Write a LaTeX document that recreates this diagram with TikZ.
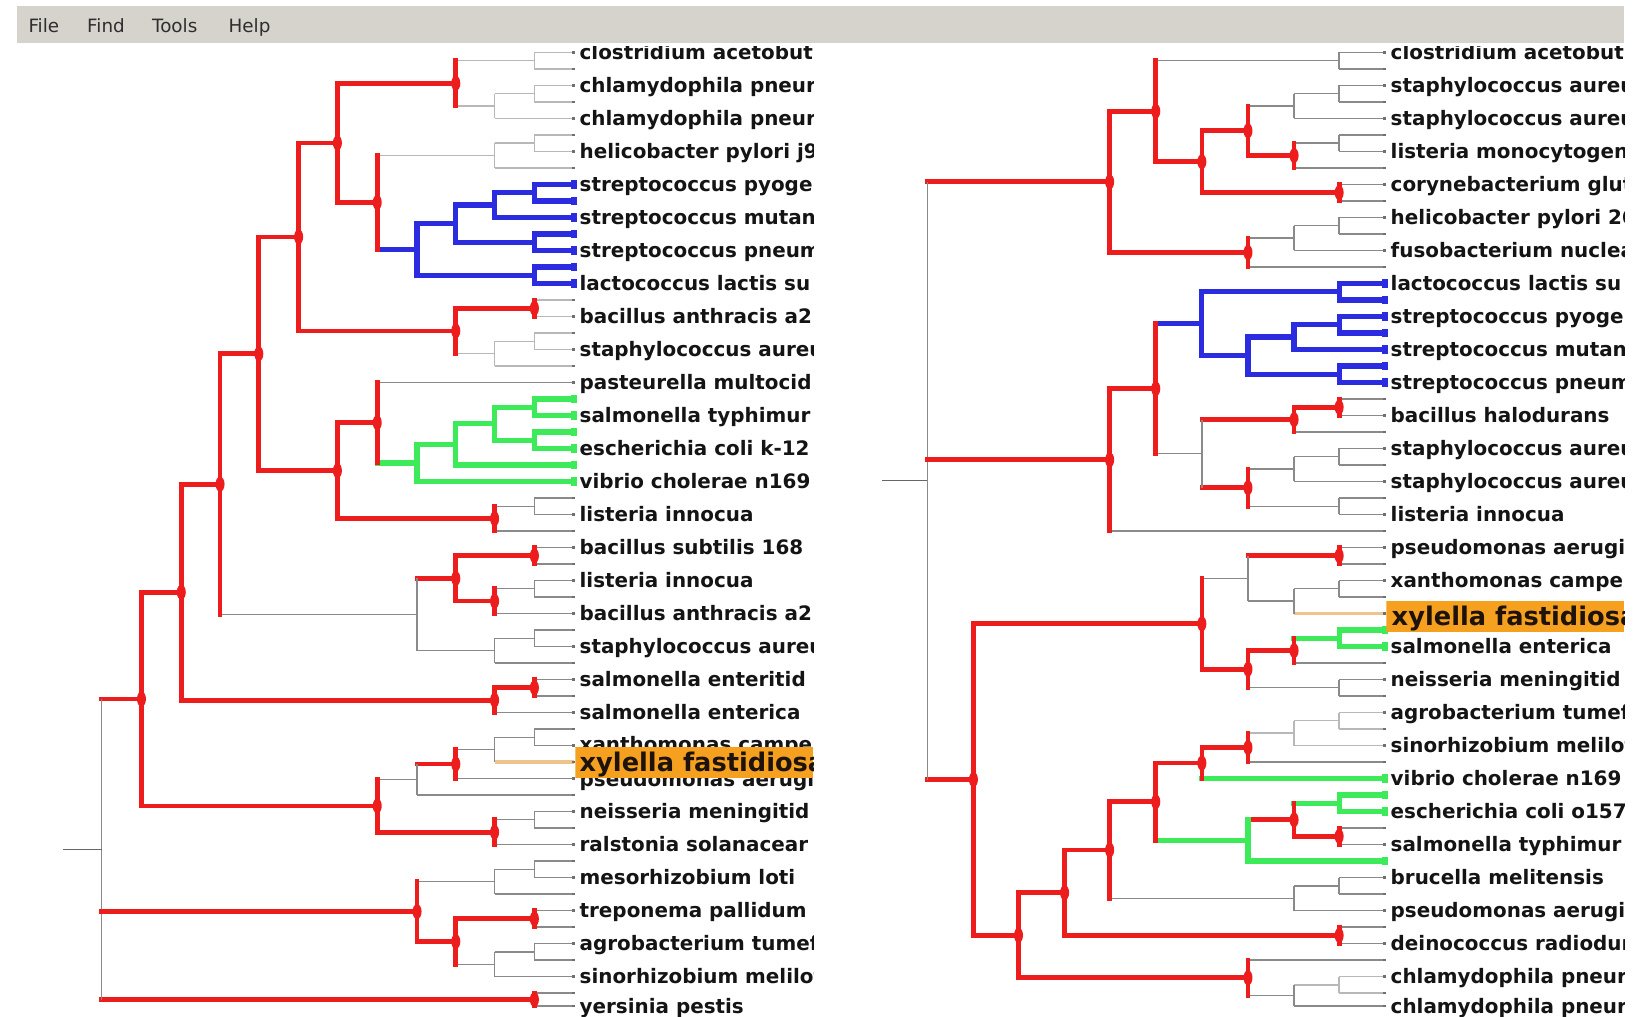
\documentclass[tikz,border=0pt]{standalone}
\usepackage{fontspec}
\usetikzlibrary{calc}
\newfontfamily\lblfont{DejaVu Sans}
\newfontfamily\menufont{DejaVu Sans}
\definecolor{tjred}{HTML}{EE1D1D}
\definecolor{tjblue}{HTML}{2B2BE0}
\definecolor{tjgreen}{HTML}{3DEB5A}
\definecolor{hilite}{HTML}{F5A11F}
\definecolor{menubg}{HTML}{D6D3CC}
\definecolor{lgray}{HTML}{B8B8B8}
\definecolor{mgray}{HTML}{8A8A8A}
\definecolor{xyedge}{HTML}{EDC48C}
\definecolor{tickc}{HTML}{707070}

% binary clade: name, column x, child 1, edge style 1, child 2, edge style 2, vertical style
\newcommand\clade[7]{%
  \coordinate (tmpmid) at ($(#3)!.5!(#5)$);
  \coordinate (colx) at (#2,0);
  \coordinate (#1) at (colx |- tmpmid);
  \draw[#4] (#1 |- #3) -- (#3);
  \draw[#6] (#1 |- #5) -- (#5);
  \draw[#7] (#1 |- #3) -- (#1 |- #5);
}
% leaf label: node name, leaf, text
\newcommand\leaflabel[3]{\node[lbl] (#1) at ($(#2)+(5,7)$) {#3};}

\begin{document}
\begin{tikzpicture}[x=1pt,y=-1pt,
  rd/.style={draw=tjred, line width=4.5pt, line cap=rect},
  bl/.style={draw=tjblue, line width=5pt, line cap=rect},
  gn/.style={draw=tjgreen, line width=5pt, line cap=rect},
  lg/.style={draw=lgray, line width=1.3pt},
  mg/.style={draw=mgray, line width=1.3pt},
  og/.style={draw=xyedge, line width=3pt},
  lbl/.style={font=\lblfont\bfseries\fontsize{19}{19}\selectfont, text=black!92, inner sep=0pt, anchor=base west},
  xyl/.style={font=\lblfont\bfseries\fontsize{24.5}{24.5}\selectfont, text=black!85!brown, inner sep=0pt, anchor=base west},
  menu/.style={font=\menufont\fontsize{17.5}{17.5}\selectfont, text=black!82, inner sep=0pt, anchor=base west}]
\useasboundingbox (0,0) rectangle (1568,970);
\fill[white] (0,0) rectangle (1568,970);

% menu bar
\fill[menubg] (16,6) rectangle (1550,41);
\node[menu] (mFile) at (27,31) {File};
\node[menu] (mFind) at (83,31) {Find};
\node[menu] (mTools) at (145,31) {Tools};
\node[menu] (mHelp) at (218,31) {Help};

% leaf positions of both trees
\foreach \s in {0,...,57}{
  \coordinate (a\s) at (548,{50+15.75*\s});
  \coordinate (b\s) at (1322,{50+15.75*\s});
}
\coordinate (a58) at (548,960);
\coordinate (b58) at (1322,960);

% ---------------- left tree ----------------
\clade{L1}{510}{a0}{lg}{a1}{lg}{lg}
\clade{L2}{510}{a2}{lg}{a3}{lg}{lg}
\clade{L3}{472}{L2}{lg}{a4}{lg}{lg}
\clade{L4}{435}{L1}{lg}{L3}{lg}{rd}
\clade{L5}{510}{a5}{lg}{a6}{lg}{lg}
\clade{L6}{472}{L5}{lg}{a7}{lg}{lg}
\clade{L7}{510}{a8}{bl}{a9}{bl}{bl}
\clade{L8}{472}{L7}{bl}{a10}{bl}{bl}
\clade{L9}{510}{a11}{bl}{a12}{bl}{bl}
\clade{L10}{435}{L8}{bl}{L9}{bl}{bl}
\clade{L11}{510}{a13}{bl}{a14}{bl}{bl}
\clade{L12}{398}{L10}{bl}{L11}{bl}{bl}
\clade{L13}{360}{L6}{lg}{L12}{bl}{rd}
\clade{L14}{322}{L4}{rd}{L13}{rd}{rd}
\clade{L15}{510}{a15}{lg}{a16}{lg}{rd}
\clade{L16}{510}{a17}{lg}{a18}{lg}{lg}
\clade{L17}{472}{L16}{lg}{a19}{lg}{lg}
\clade{L18}{435}{L15}{rd}{L17}{lg}{rd}
\clade{L19}{285}{L14}{rd}{L18}{rd}{rd}
\clade{L20}{510}{a21}{gn}{a22}{gn}{gn}
\clade{L21}{510}{a23}{gn}{a24}{gn}{gn}
\clade{L22}{472}{L20}{gn}{L21}{gn}{gn}
\clade{L23}{435}{L22}{gn}{a25}{gn}{gn}
\clade{L24}{398}{L23}{gn}{a26}{gn}{gn}
\clade{L25}{360}{a20}{mg}{L24}{gn}{rd}
\clade{L26}{510}{a27}{mg}{a28}{mg}{mg}
\clade{L27}{472}{L26}{mg}{a29}{mg}{rd}
\clade{L28}{322}{L25}{rd}{L27}{rd}{rd}
\clade{L29}{247}{L19}{rd}{L28}{rd}{rd}
\clade{L30}{510}{a30}{mg}{a31}{mg}{rd}
\clade{L31}{510}{a32}{mg}{a33}{mg}{mg}
\clade{L32}{472}{L31}{mg}{a34}{mg}{rd}
\clade{L33}{435}{L30}{rd}{L32}{rd}{rd}
\clade{L34}{510}{a35}{mg}{a36}{mg}{mg}
\clade{L35}{472}{L34}{mg}{a37}{mg}{mg}
\clade{L36}{398}{L33}{rd}{L35}{mg}{mg}
\clade{L37}{210}{L29}{rd}{L36}{mg}{rd}
\clade{L38}{510}{a38}{mg}{a39}{mg}{rd}
\clade{L39}{472}{L38}{rd}{a40}{mg}{rd}
\clade{L40}{173}{L37}{rd}{L39}{rd}{rd}
\clade{L41}{510}{a41}{mg}{a42}{mg}{mg}
\clade{L42}{472}{L41}{mg}{a43}{og}{mg}
\clade{L43}{435}{L42}{mg}{a44}{mg}{rd}
\clade{L44}{398}{L43}{rd}{a45}{mg}{mg}
\clade{L45}{510}{a46}{mg}{a47}{mg}{mg}
\clade{L46}{472}{L45}{mg}{a48}{mg}{rd}
\clade{L47}{360}{L44}{mg}{L46}{rd}{rd}
\clade{L48}{135}{L40}{rd}{L47}{rd}{rd}
\clade{L49}{510}{a49}{mg}{a50}{mg}{mg}
\clade{L50}{472}{L49}{mg}{a51}{mg}{mg}
\clade{L51}{510}{a52}{mg}{a53}{mg}{rd}
\clade{L52}{510}{a54}{mg}{a55}{mg}{mg}
\clade{L53}{472}{L52}{mg}{a56}{mg}{mg}
\clade{L54}{435}{L51}{rd}{L53}{mg}{rd}
\clade{L55}{398}{L50}{mg}{L54}{rd}{rd}
\clade{L56}{510}{a57}{mg}{a58}{mg}{rd}
\clade{L57}{97}{L48}{rd}{L56}{rd}{mg}
\draw[rd] (L57 |- L55) -- (L55);
\coordinate (colx) at (60,0);
\coordinate (Lstub) at (colx |- L57);
\draw[mg, draw=black!60] (Lstub) -- (L57);

% ---------------- right tree ----------------
\clade{R1}{1278}{b0}{mg}{b1}{mg}{mg}
\clade{R2}{1278}{b2}{mg}{b3}{mg}{mg}
\clade{R3}{1235}{R2}{mg}{b4}{mg}{mg}
\clade{R4}{1278}{b5}{mg}{b6}{mg}{mg}
\clade{R5}{1235}{R4}{mg}{b7}{mg}{rd}
\clade{R6}{1191}{R3}{mg}{R5}{rd}{rd}
\clade{R7}{1278}{b8}{mg}{b9}{mg}{rd}
\clade{R8}{1147}{R6}{rd}{R7}{rd}{rd}
\clade{R9}{1103}{R1}{mg}{R8}{rd}{rd}
\clade{R10}{1278}{b10}{mg}{b11}{mg}{mg}
\clade{R11}{1235}{R10}{mg}{b12}{mg}{mg}
\clade{R12}{1191}{R11}{mg}{b13}{mg}{rd}
\clade{R13}{1059}{R9}{rd}{R12}{rd}{rd}
\clade{R14}{1278}{b14}{bl}{b15}{bl}{bl}
\clade{R15}{1278}{b16}{bl}{b17}{bl}{bl}
\clade{R16}{1235}{R15}{bl}{b18}{bl}{bl}
\clade{R17}{1278}{b19}{bl}{b20}{bl}{bl}
\clade{R18}{1191}{R16}{bl}{R17}{bl}{bl}
\clade{R19}{1147}{R14}{bl}{R18}{bl}{bl}
\clade{R20}{1278}{b21}{mg}{b22}{mg}{rd}
\clade{R21}{1235}{R20}{rd}{b23}{mg}{rd}
\clade{R22}{1278}{b24}{mg}{b25}{mg}{mg}
\clade{R23}{1235}{R22}{mg}{b26}{mg}{mg}
\clade{R24}{1278}{b27}{mg}{b28}{mg}{mg}
\clade{R25}{1191}{R23}{mg}{R24}{mg}{rd}
\clade{R26}{1147}{R21}{rd}{R25}{rd}{mg}
\clade{R27}{1103}{R19}{bl}{R26}{mg}{rd}
\clade{R28}{1059}{R27}{rd}{b29}{mg}{rd}
\clade{R29}{1278}{b30}{mg}{b31}{mg}{rd}
\clade{R30}{1278}{b32}{mg}{b33}{mg}{mg}
\clade{R31}{1235}{R30}{mg}{b34}{og}{mg}
\clade{R32}{1191}{R29}{rd}{R31}{mg}{mg}
\clade{R33}{1278}{b35}{gn}{b36}{gn}{gn}
\clade{R34}{1235}{R33}{gn}{b37}{mg}{rd}
\clade{R35}{1278}{b38}{mg}{b39}{mg}{mg}
\clade{R36}{1191}{R34}{rd}{R35}{mg}{rd}
\clade{R37}{1147}{R32}{mg}{R36}{rd}{rd}
\clade{R38}{1278}{b40}{lg}{b41}{lg}{lg}
\clade{R39}{1235}{R38}{lg}{b42}{lg}{lg}
\clade{R40}{1191}{R39}{lg}{b43}{mg}{rd}
\clade{R41}{1147}{R40}{rd}{b44}{gn}{rd}
\clade{R42}{1278}{b45}{gn}{b46}{gn}{gn}
\clade{R43}{1278}{b47}{mg}{b48}{mg}{rd}
\clade{R44}{1235}{R42}{gn}{R43}{rd}{rd}
\clade{R45}{1191}{R44}{rd}{b49}{gn}{gn}
\clade{R46}{1103}{R41}{rd}{R45}{gn}{rd}
\clade{R47}{1278}{b50}{mg}{b51}{mg}{mg}
\clade{R48}{1235}{R47}{mg}{b52}{mg}{mg}
\clade{R49}{1059}{R46}{rd}{R48}{mg}{rd}
\clade{R50}{1278}{b53}{mg}{b54}{mg}{rd}
\clade{R51}{1016}{R49}{rd}{R50}{rd}{rd}
\clade{R52}{1278}{b56}{lg}{b57}{lg}{lg}
\clade{R53}{1235}{R52}{lg}{b58}{mg}{mg}
\clade{R54}{1191}{b55}{mg}{R53}{mg}{rd}
\clade{R55}{972}{R51}{rd}{R54}{rd}{rd}
\clade{R56}{929}{R37}{rd}{R55}{rd}{rd}
\clade{R57}{885}{R13}{rd}{R56}{rd}{mg}
\draw[rd] (R57 |- R28) -- (R28);
\coordinate (colx) at (842,0);
\coordinate (Rstub) at (colx |- R57);
\draw[mg, draw=black!60] (Rstub) -- (R57);

% node markers of the differing clades
\foreach \n in {L4,L13,L14,L15,L18,L19,L25,L27,L28,L29,L30,L32,L33,L37,L38,L39,L40,L43,L46,L47,L48,L51,L54,L55,L56,
                R5,R6,R7,R8,R9,R12,R13,R20,R21,R25,R27,R28,R29,R34,R36,R37,R40,R41,R43,R44,R46,R49,R50,R51,R54,R55,R56}
  \fill[tjred] (\n) ellipse (4.3 and 7.2);

% leaf ends
\foreach \s in {0,...,58}{
  \fill[tickc] ($(a\s)+(-2.5,-1.3)$) rectangle ($(a\s)+(1,1.3)$);
  \fill[tickc] ($(b\s)+(-2.5,-1.3)$) rectangle ($(b\s)+(1,1.3)$);
}
\foreach \n in {a8,a9,a10,a11,a12,a13,a14,b14,b15,b16,b17,b18,b19,b20}
  \fill[tjblue] ($(\n)+(-3.5,-4)$) rectangle ($(\n)+(3,4)$);
\foreach \n in {a21,a22,a23,a24,a25,a26,b35,b36,b44,b45,b46,b49}
  \fill[tjgreen] ($(\n)+(-3.5,-4)$) rectangle ($(\n)+(3,4)$);

% ---------------- left labels ----------------
\begin{scope}
\clip (549,44) rectangle (776,970);
\leaflabel{la0}{a0}{clostridium acetobut}
\leaflabel{la2}{a2}{chlamydophila pneur}
\leaflabel{la4}{a4}{chlamydophila pneur}
\leaflabel{la6}{a6}{helicobacter pylori j9}
\leaflabel{la8}{a8}{streptococcus pyoge}
\leaflabel{la10}{a10}{streptococcus mutan}
\leaflabel{la12}{a12}{streptococcus pneum}
\leaflabel{la14}{a14}{lactococcus lactis su}
\leaflabel{la16}{a16}{bacillus anthracis a2}
\leaflabel{la18}{a18}{staphylococcus aureu}
\leaflabel{la20}{a20}{pasteurella multocid}
\leaflabel{la22}{a22}{salmonella typhimur}
\leaflabel{la24}{a24}{escherichia coli k-12}
\leaflabel{la26}{a26}{vibrio cholerae n169}
\leaflabel{la28}{a28}{listeria innocua}
\leaflabel{la30}{a30}{bacillus subtilis 168}
\leaflabel{la32}{a32}{listeria innocua}
\leaflabel{la34}{a34}{bacillus anthracis a2}
\leaflabel{la36}{a36}{staphylococcus aureu}
\leaflabel{la38}{a38}{salmonella enteritid}
\leaflabel{la40}{a40}{salmonella enterica}
\node[lbl] (la42) at ($(a42)+(5,5.5)$) {xanthomonas campe};
\node[lbl] (la44) at ($(a44)+(5,8)$) {pseudomonas aerugi};
\fill[hilite] (548,713) rectangle (776,742);
\node[xyl] (la43) at ($(a43)+(5,9)$) {xylella fastidiosa};
\leaflabel{la46}{a46}{neisseria meningitid}
\leaflabel{la48}{a48}{ralstonia solanacear}
\leaflabel{la50}{a50}{mesorhizobium loti}
\leaflabel{la52}{a52}{treponema pallidum}
\leaflabel{la54}{a54}{agrobacterium tumef}
\leaflabel{la56}{a56}{sinorhizobium meliloti}
\leaflabel{la58}{a58}{yersinia pestis}
\end{scope}

% ---------------- right labels ----------------
\begin{scope}
\clip (1323,44) rectangle (1550,970);
\leaflabel{lb0}{b0}{clostridium acetobut}
\leaflabel{lb2}{b2}{staphylococcus aureu}
\leaflabel{lb4}{b4}{staphylococcus aureu}
\leaflabel{lb6}{b6}{listeria monocytogen}
\leaflabel{lb8}{b8}{corynebacterium glut}
\leaflabel{lb10}{b10}{helicobacter pylori 26}
\leaflabel{lb12}{b12}{fusobacterium nucleat}
\leaflabel{lb14}{b14}{lactococcus lactis su}
\leaflabel{lb16}{b16}{streptococcus pyoge}
\leaflabel{lb18}{b18}{streptococcus mutan}
\leaflabel{lb20}{b20}{streptococcus pneum}
\leaflabel{lb22}{b22}{bacillus halodurans}
\leaflabel{lb24}{b24}{staphylococcus aureu}
\leaflabel{lb26}{b26}{staphylococcus aureu}
\leaflabel{lb28}{b28}{listeria innocua}
\leaflabel{lb30}{b30}{pseudomonas aerugi}
\leaflabel{lb32}{b32}{xanthomonas campe}
\fill[hilite] (1323,574) rectangle (1550,603);
\node[xyl] (lb34) at ($(b34)+(6,11)$) {xylella fastidiosa};
\leaflabel{lb36}{b36}{salmonella enterica}
\leaflabel{lb38}{b38}{neisseria meningitid}
\leaflabel{lb40}{b40}{agrobacterium tumef}
\leaflabel{lb42}{b42}{sinorhizobium meliloti}
\leaflabel{lb44}{b44}{vibrio cholerae n169}
\leaflabel{lb46}{b46}{escherichia coli o157}
\leaflabel{lb48}{b48}{salmonella typhimur}
\leaflabel{lb50}{b50}{brucella melitensis}
\leaflabel{lb52}{b52}{pseudomonas aerugi}
\leaflabel{lb54}{b54}{deinococcus radiodur}
\leaflabel{lb56}{b56}{chlamydophila pneur}
\leaflabel{lb58}{b58}{chlamydophila pneur}
\end{scope}
\end{tikzpicture}
\end{document}
